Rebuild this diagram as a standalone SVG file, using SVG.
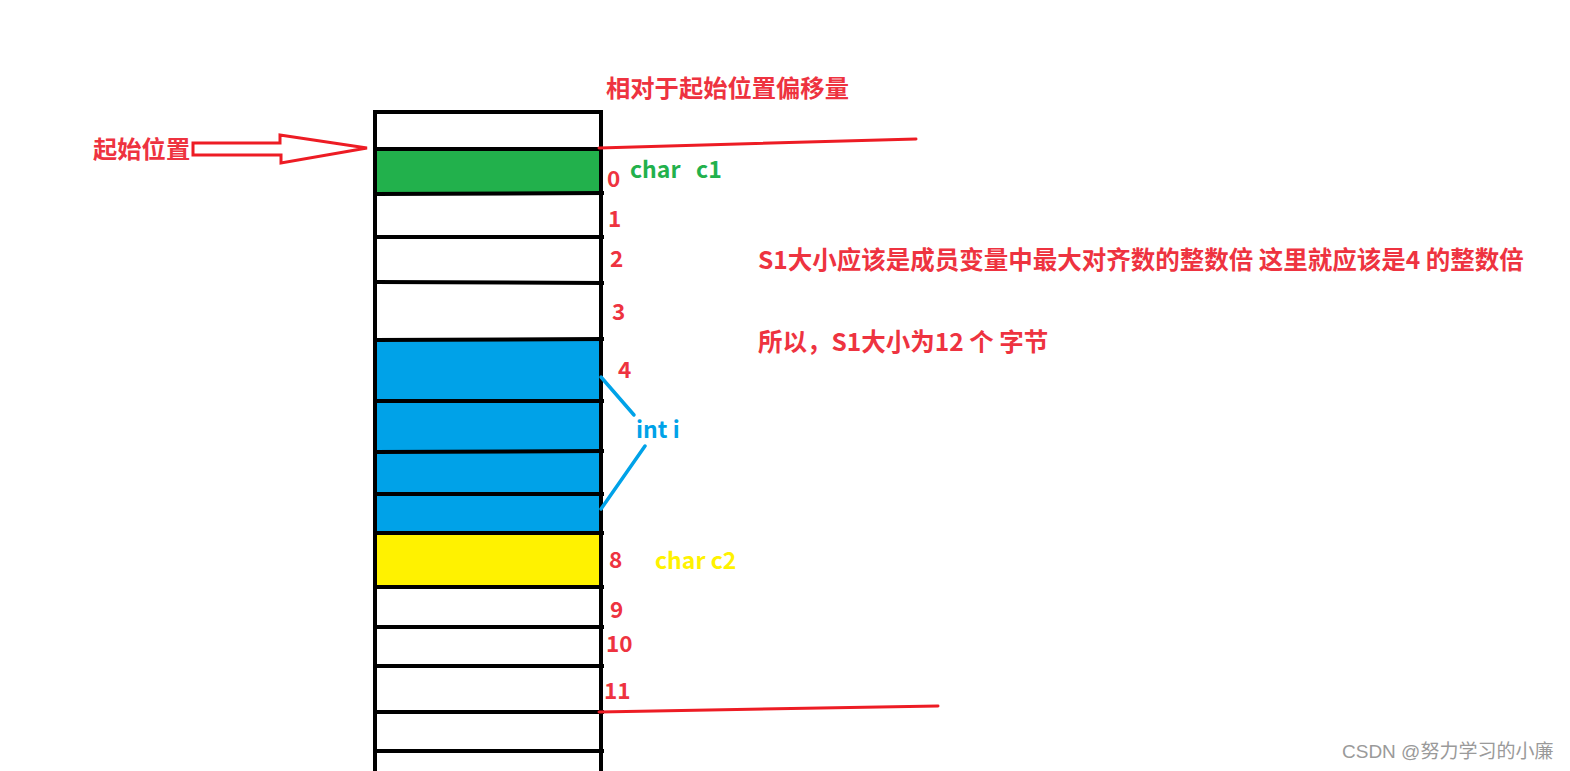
<svg xmlns="http://www.w3.org/2000/svg" width="1570" height="771" viewBox="0 0 1570 771">
<style>
.t{font-family:"Noto Sans CJK SC","Noto Sans",sans-serif;font-weight:700;}
.red{fill:#ee3340;}
.big{font-size:24.5px;}
.num{font-size:22.5px;}
.lbl{font-size:23px;}
.cell{stroke:#000;stroke-width:4;fill:none;}
.hl{stroke:#000;stroke-width:4;}
.rl{stroke:#ed1c24;stroke-width:3;fill:none;stroke-linecap:round;}
.bl{stroke:#00a2e8;stroke-width:3.5;fill:none;stroke-linecap:round;}
</style>
<rect width="1570" height="771" fill="#fff"/>
<g id="memory">
<rect x="375" y="149" width="226" height="45" fill="#22b14c"/>
<rect x="375" y="339" width="226" height="194" fill="#00a2e8"/>
<rect x="375" y="533" width="226" height="54" fill="#fff200"/>
<path class="cell" d="M375,775 V112 H601 V775"/>
<g class="hl">
<line x1="375" y1="149" x2="603" y2="149"/>
<line x1="375" y1="194" x2="604" y2="193"/>
<line x1="375" y1="237" x2="604" y2="237"/>
<line x1="375" y1="282" x2="604" y2="283"/>
<line x1="375" y1="340" x2="604" y2="339"/>
<line x1="375" y1="401" x2="604" y2="401"/>
<line x1="375" y1="452" x2="604" y2="451"/>
<line x1="375" y1="494" x2="604" y2="494"/>
<line x1="375" y1="533" x2="604" y2="533"/>
<line x1="375" y1="587" x2="604" y2="587"/>
<line x1="375" y1="627" x2="604" y2="627"/>
<line x1="375" y1="666" x2="604" y2="666"/>
<line x1="375" y1="712" x2="604" y2="712"/>
<line x1="375" y1="751" x2="604" y2="751"/>
</g>
</g>
<g id="offsets" class="t num red">
<text x="607" y="187">0</text>
<text x="608" y="227">1</text>
<text x="610" y="267">2</text>
<text x="612" y="320">3</text>
<text x="618" y="378">4</text>
<text x="609" y="568">8</text>
<text x="610" y="618">9</text>
<text x="606" y="652">10</text>
<text x="604" y="699">11</text>
</g>
<g id="start-label">
<text class="t red" font-size="24.3" x="93" y="158">起始位置</text>
</g>
<g id="offset-title">
<text class="t red" font-size="24.3" x="606" y="97">相对于起始位置偏移量</text>
</g>
<g id="note1">
<text class="t big red" x="758" y="269">S1大小应该是成员变量中最大对齐数的整数倍 这里就应该是4 的整数倍</text>
</g>
<g id="note2">
<text class="t big red" x="758" y="351">所以，S1大小为12 个 字节</text>
</g>
<g id="c1-label">
<text class="t lbl" x="630" y="178" fill="#22b14c" xml:space="preserve">char   c1</text>
</g>
<g id="i-label">
<text class="t lbl" x="636" y="438" fill="#00a2e8">int i</text>
</g>
<g id="c2-label">
<text class="t lbl" x="655" y="569" fill="#fff200">char c2</text>
</g>
<g id="connectors">
<path class="rl" d="M193,143 H280 V135 L367,148 L281,163 V155 H193 Z"/>
<line class="rl" x1="599" y1="148" x2="916" y2="139"/>
<line class="rl" x1="599" y1="712" x2="938" y2="706"/>
<line class="bl" x1="601" y1="377" x2="634" y2="415"/>
<line class="bl" x1="645" y1="446" x2="601" y2="509"/>
</g>
<g id="watermark">
<text x="1342" y="758" font-family="Liberation Sans,'Noto Sans CJK SC',sans-serif" font-size="19" fill="#9a9a9a">CSDN @努力学习的小廉</text>
</g>
</svg>
